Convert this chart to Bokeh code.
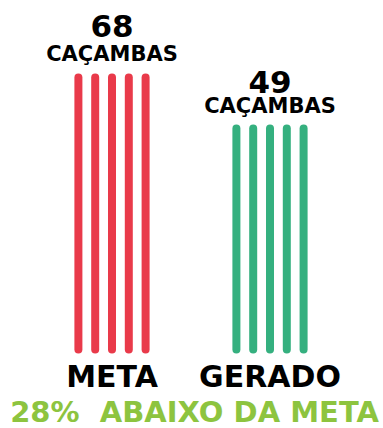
from bokeh.plotting import figure
from bokeh.models import Range1d, ColumnDataSource
from bokeh.core.properties import value
from bokeh.embed import file_html
from bokeh.resources import INLINE

# ---- data ----
categories = ["META", "GERADO"]
values = [68, 49]
unit_label = "CAÇAMBAS"
bar_colors = ["#E93A4A", "#35B07F"]
pct_below = round((values[0] - values[1]) / values[0] * 100)
footer_text = f"{pct_below}%\u00a0 ABAIXO DA META"

# ---- layout constants ----
W, H = 383, 428
GROUP_X = [111.5, 269.5]
BAR_STEP = 16.8
N_BARS = 5
BASE = -33.3
NUM_OFF = [-52, -47]
UNIT_OFF = [-24, -23]
FONT = value("DejaVu Sans")

p = figure(width=W, height=H, output_backend="svg", toolbar_location=None,
           x_range=Range1d(0, 383), y_range=Range1d(-62.77, 96.69),
           min_border=0)
p.axis.visible = False
p.grid.visible = False
p.outline_line_color = None
p.background_fill_color = "white"
p.border_fill_color = "white"

for i, (gx, v, col) in enumerate(zip(GROUP_X, values, bar_colors)):
    xs = [gx + (k - (N_BARS - 1) / 2) * BAR_STEP for k in range(N_BARS)]
    src = ColumnDataSource(dict(x=xs, y0=[BASE] * N_BARS, y1=[v] * N_BARS))
    p.segment(x0="x", y0="y0", x1="x", y1="y1", source=src,
              line_color=col, line_width=8, line_cap="round")
    p.text(x=[gx], y=[v], text=[str(v)], text_font=FONT,
           text_font_style="bold", text_font_size="31px", text_color="black",
           text_align="center", text_baseline="alphabetic", y_offset=NUM_OFF[i])
    p.text(x=[gx], y=[v], text=[unit_label], text_font=FONT,
           text_font_style="bold", text_font_size="21px", text_color="black",
           text_align="center", text_baseline="alphabetic", y_offset=UNIT_OFF[i])
    p.text(x=[gx], y=[BASE], text=[categories[i]], text_font=FONT,
           text_font_style="bold", text_font_size="30px", text_color="black",
           text_align="center", text_baseline="alphabetic", y_offset=27)

p.text(x=[194], y=[BASE], text=[footer_text], text_font=FONT,
       text_font_style="bold", text_font_size="29px", text_color="#8DC43F",
       text_align="center", text_baseline="alphabetic", y_offset=63)

open("out.html", "w").write(file_html(p, INLINE))
